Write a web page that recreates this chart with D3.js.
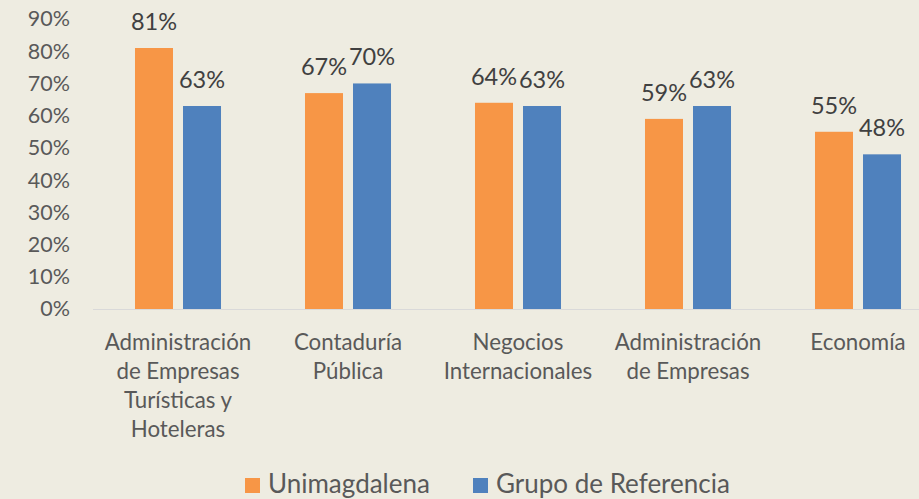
<!DOCTYPE html>
<html>
<head>
<meta charset="utf-8">
<script src="https://cdn.jsdelivr.net/npm/d3@7"></script>
<style>
    html, body { margin: 0; padding: 0; background: #eeece1; }
    svg { display: block; font-family: Lato, "Open Sans", sans-serif; }
</style>
</head>
<body>
<div id="chart"></div>
<script>
// data
const categories = [
    ['Administración', 'de Empresas', 'Turísticas y', 'Hoteleras'],
    ['Contaduría', 'Pública'],
    ['Negocios', 'Internacionales'],
    ['Administración', 'de Empresas'],
    ['Economía']
];
const seriesNames = ['Unimagdalena', 'Grupo de Referencia'];
const unimagdalena = [0.81, 0.67, 0.64, 0.59, 0.55];
const grupoReferencia = [0.63, 0.70, 0.63, 0.63, 0.48];
const yTicks = [0, 0.1, 0.2, 0.3, 0.4, 0.5, 0.6, 0.7, 0.8, 0.9];
const colors = ['#f79646', '#4f81bd'];

const width = 919, height = 499;
const fmt = d3.format('.0%');

let svg = d3.select('#chart')
    .append('svg')
    .attr('width', width)
    .attr('height', height);

let keys = categories.map((c, i) => i);

let x0 = d3.scaleBand()
    .domain(keys)
    .range([93, 943])
    .paddingInner(0.494)
    .paddingOuter(0.247);

let x1 = d3.scaleBand()
    .domain(seriesNames)
    .range([0, x0.bandwidth()])
    .paddingInner(0.2083);

let y = d3.scaleLinear()
    .domain([0, 0.9])
    .range([309, 19]);

// y axis labels
let yAxis = svg.append('g')
    .attr('transform', 'translate(70,0)')
    .call(d3.axisLeft(y).tickValues(yTicks).tickFormat(fmt).tickSize(0).tickPadding(0));
yAxis.select('.domain').remove();
yAxis.selectAll('text')
    .attr('fill', '#595959')
    .attr('font-size', 21.5)
    .attr('font-family', 'Lato, sans-serif');

// bars
let rows = keys.map(i => [unimagdalena[i], grupoReferencia[i]]);

let groups = svg.selectAll('g.cat')
    .data(rows)
    .enter()
    .append('g')
    .attr('class', 'cat')
    .attr('transform', (d, i) => `translate(${x0(i)},0)`);

groups.selectAll('rect')
    .data(d => d.map((v, j) => ({ v: v, j: j })))
    .enter()
    .append('rect')
    .attr('x', d => x1(seriesNames[d.j]))
    .attr('width', x1.bandwidth())
    .attr('y', d => y(d.v))
    .attr('height', d => y(0) - y(d.v))
    .attr('fill', d => colors[d.j]);

groups.selectAll('text.val')
    .data(d => d.map((v, j) => ({ v: v, j: j })))
    .enter()
    .append('text')
    .attr('class', 'val')
    .attr('x', d => x1(seriesNames[d.j]) + x1.bandwidth() / 2)
    .attr('y', d => y(d.v) - 18)
    .attr('text-anchor', 'middle')
    .attr('fill', '#404040')
    .attr('font-size', 23.5)
    .text(d => fmt(d.v));

// baseline
svg.append('line')
    .attr('x1', 93).attr('x2', width)
    .attr('y1', y(0) + 0.5).attr('y2', y(0) + 0.5)
    .attr('stroke', '#d9d9d9')
    .attr('stroke-width', 1);

// category labels
let xAxis = svg.append('g');
categories.forEach((lines, i) => {
    let t = xAxis.append('text')
        .attr('x', x0(i) + x0.bandwidth() / 2)
        .attr('y', 350)
        .attr('text-anchor', 'middle')
        .attr('fill', '#595959')
        .attr('font-size', 22.3);
    lines.forEach((l, k) => {
        t.append('tspan')
            .attr('x', x0(i) + x0.bandwidth() / 2)
            .attr('dy', k === 0 ? 0 : 29)
            .text(l);
    });
});

// legend
let legend = svg.append('g');
let legendX = [245, 473];
seriesNames.forEach((name, j) => {
    legend.append('rect')
        .attr('x', legendX[j]).attr('y', 478)
        .attr('width', 15).attr('height', 15)
        .attr('fill', colors[j]);
    legend.append('text')
        .attr('x', legendX[j] + 23)
        .attr('y', 493)
        .attr('fill', '#595959')
        .attr('font-size', 26)
        .text(name);
});
</script>
</body>
</html>
